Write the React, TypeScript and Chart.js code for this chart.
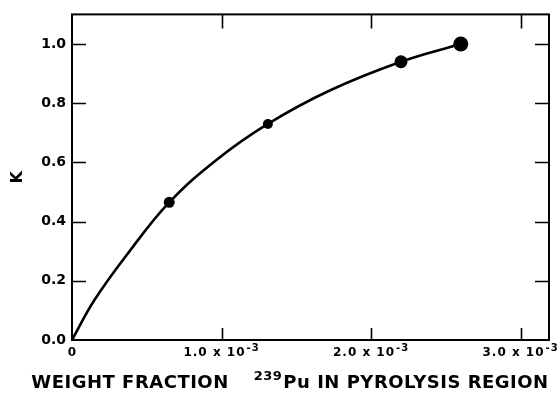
import { useEffect, useRef } from "react";
import { Chart, registerables } from "chart.js";

Chart.register(...registerables);

// Measured data points (weight fraction of 239Pu, K)
const pointX = [0.65e-3, 1.31e-3, 2.2e-3, 2.6e-3];
const pointK = [0.465, 0.73, 0.94, 1.0];

// Hand-drawn fitted curve
const curveX = [0, 0.15e-3, 0.37e-3, 0.65e-3, 0.97e-3, 1.31e-3, 1.72e-3, 2.2e-3, 2.6e-3];
const curveK = [0, 0.135, 0.29, 0.465, 0.61, 0.73, 0.842, 0.94, 1.0];

// Axis ticks
const xTickValues = [0, 1e-3, 2e-3, 3e-3];
const xTickLabels = ["0", "1.0 x 10^-3", "2.0 x 10^-3", "3.0 x 10^-3"];
const yTickValues = [0, 0.2, 0.4, 0.6, 0.8, 1.0];

const xTitleParts = ["WEIGHT FRACTION", "239", "Pu IN PYROLYSIS REGION"];
const yTitle = "K";

const FONT = "'DejaVu Sans', 'Liberation Sans', sans-serif";
const markerRadius = [5.5, 5, 6.5, 7.5];

const decorPlugin = {
  id: "decor",
  afterDraw(chart: any) {
    const { ctx, chartArea: a, scales } = chart;
    const xs = scales.x;
    const ys = scales.y;
    ctx.save();
    ctx.strokeStyle = "#000";
    ctx.lineWidth = 2;
    ctx.strokeRect(a.left, a.top, a.right - a.left, a.bottom - a.top);

    // inward ticks
    ctx.lineWidth = 1.6;
    ctx.beginPath();
    for (const v of xTickValues) {
      if (v <= xs.min) continue;
      const px = Math.round(xs.getPixelForValue(v)) + 0.5;
      ctx.moveTo(px, a.bottom);
      ctx.lineTo(px, a.bottom - 12);
      ctx.moveTo(px, a.top);
      ctx.lineTo(px, a.top + 14);
    }
    for (const v of yTickValues) {
      if (v <= ys.min) continue;
      const py = Math.round(ys.getPixelForValue(v)) + 0.5;
      ctx.moveTo(a.left, py);
      ctx.lineTo(a.left + 14, py);
      ctx.moveTo(a.right, py);
      ctx.lineTo(a.right - 14, py);
    }
    ctx.stroke();

    // x tick labels with superscript exponent
    ctx.fillStyle = "#000";
    ctx.textAlign = "left";
    ctx.textBaseline = "alphabetic";
    const mainFont = `bold 12px ${FONT}`;
    const supFont = `bold 10px ${FONT}`;
    const baseY = a.bottom + 16;
    xTickValues.forEach((v, i) => {
      const [main, sup] = xTickLabels[i].split("^");
      (ctx as any).letterSpacing = main.length > 1 ? "1px" : "0px";
      ctx.font = mainFont;
      const wm = ctx.measureText(main).width;
      let ws = 0;
      if (sup) {
        ctx.font = supFont;
        ws = ctx.measureText(sup).width + 1;
      }
      const cx = xs.getPixelForValue(v);
      const x0 = cx - (wm + ws) / 2;
      ctx.font = mainFont;
      ctx.fillText(main, x0, baseY);
      if (sup) {
        ctx.font = supFont;
        ctx.fillText(sup, x0 + wm + 1, baseY - 5);
      }
    });

    // x axis title with superscript mass number
    const tFont = `bold 18px ${FONT}`;
    const tSup = `bold 13px ${FONT}`;
    (ctx as any).letterSpacing = "0.5px";
    ctx.font = tFont;
    const w1 = ctx.measureText(xTitleParts[0]).width;
    const w3 = ctx.measureText(xTitleParts[2]).width;
    ctx.font = tSup;
    const w2 = ctx.measureText(xTitleParts[1]).width;
    const gap = 25;
    const total = w1 + gap + w2 + 1 + w3;
    const tx = 290 - total / 2;
    const ty = a.bottom + 48;
    ctx.font = tFont;
    ctx.fillText(xTitleParts[0], tx, ty);
    ctx.font = tSup;
    ctx.fillText(xTitleParts[1], tx + w1 + gap, ty - 8);
    ctx.font = tFont;
    ctx.fillText(xTitleParts[2], tx + w1 + gap + w2 + 1, ty);
    (ctx as any).letterSpacing = "0px";
    ctx.restore();
  },
};

export default function App() {
  const canvasRef = useRef<HTMLCanvasElement | null>(null);

  useEffect(() => {
    const canvas = canvasRef.current;
    if (!canvas) return;
    const curveData = curveX.map((x, i) => ({ x, y: curveK[i] }));
    const pointData = pointX.map((x, i) => ({ x, y: pointK[i] }));

    const chart = new Chart(canvas, {
      type: "line",
      data: {
        datasets: [
          {
            label: "curve",
            data: curveData,
            borderColor: "#000",
            borderWidth: 2.6,
            pointRadius: 0,
            tension: 0.4,
            fill: false,
          },
          {
            label: "points",
            data: pointData,
            showLine: false,
            pointRadius: markerRadius,
            pointBackgroundColor: "#000",
            pointBorderColor: "#000",
            pointBorderWidth: 0,
          },
        ],
      },
      options: {
        animation: false,
        responsive: false,
        events: [],
        layout: { padding: { top: 13, right: 11, left: 0, bottom: 0 } },
        plugins: {
          legend: { display: false },
          tooltip: { enabled: false },
        },
        scales: {
          x: {
            type: "linear",
            min: 0,
            max: 3.19e-3,
            grid: { display: false },
            border: { display: false },
            ticks: { display: false },
            afterFit: (scale: any) => {
              scale.height = 53;
            },
          },
          y: {
            type: "linear",
            min: 0,
            max: 1.1,
            grid: { display: false, drawTicks: false },
            border: { display: false },
            afterBuildTicks: (scale: any) => {
              scale.ticks = yTickValues.map((value) => ({ value }));
            },
            ticks: {
              padding: 6,
              color: "#000",
              font: { family: FONT, weight: "bold", size: 14 },
              callback: (v: any) => Number(v).toFixed(1),
            },
            title: {
              display: true,
              text: yTitle,
              color: "#000",
              font: { family: FONT, weight: "bold", size: 16 },
              padding: { top: 8, bottom: 0 },
            },
            afterFit: (scale: any) => {
              scale.width = 72;
            },
          },
        },
      },
      plugins: [decorPlugin],
    });
    return () => chart.destroy();
  }, []);

  return (
    <div style={{ position: "fixed", left: 0, top: 0, width: 560, height: 393, background: "#fff" }}>
      <canvas ref={canvasRef} width={560} height={393} style={{ display: "block" }} />
    </div>
  );
}
